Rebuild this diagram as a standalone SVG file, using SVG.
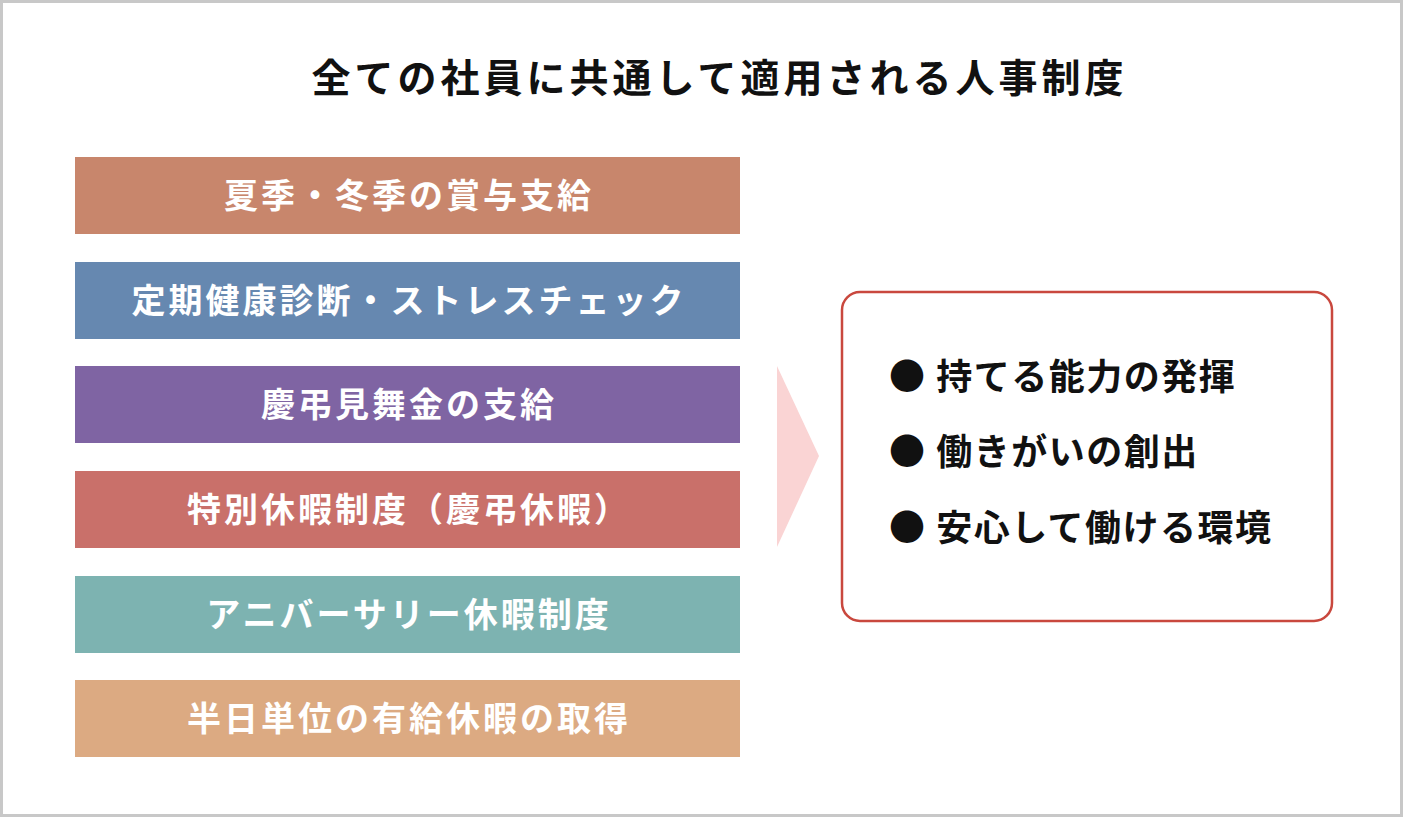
<svg xmlns="http://www.w3.org/2000/svg" width="1408" height="822" viewBox="0 0 1408 822">
<style>
.t{font-family:"Noto Sans CJK JP","Noto Sans",sans-serif;font-weight:700}
.title{font-size:39px;letter-spacing:4px;fill:#111}
.bar{font-size:34px;letter-spacing:3px;fill:#fff}
.item{font-size:36px;letter-spacing:1.5px;fill:#111}
</style>
<rect x="0" y="0" width="1408" height="822" fill="#fff"/>
<rect x="1.5" y="1.5" width="1400" height="814" fill="#fff" stroke="#c8c8c8" stroke-width="3"/>
<g id="title"><text class="t title" x="719.5" y="92" text-anchor="middle">全ての社員に共通して適用される人事制度</text></g>
<g id="bar1"><rect x="75" y="157" width="665" height="77" fill="#c8866c"/><text class="t bar" x="409" y="208" text-anchor="middle">夏季・冬季の賞与支給</text></g>
<g id="bar2"><rect x="75" y="262" width="665" height="77" fill="#6688b0"/><text class="t bar" x="409" y="313" text-anchor="middle">定期健康診断・ストレスチェック</text></g>
<g id="bar3"><rect x="75" y="366" width="665" height="77" fill="#7f64a3"/><text class="t bar" x="409" y="417" text-anchor="middle">慶弔見舞金の支給</text></g>
<g id="bar4"><rect x="75" y="471" width="665" height="77" fill="#c9706a"/><text class="t bar" x="409" y="522" text-anchor="middle">特別休暇制度（慶弔休暇）</text></g>
<g id="bar5"><rect x="75" y="576" width="665" height="77" fill="#7db3b1"/><text class="t bar" x="409" y="627" text-anchor="middle">アニバーサリー休暇制度</text></g>
<g id="bar6"><rect x="75" y="680" width="665" height="77" fill="#dcaa82"/><text class="t bar" x="409" y="731" text-anchor="middle">半日単位の有給休暇の取得</text></g>
<g id="connectors"><polygon points="777,366 819,456 777,547" fill="#fad4d4"/></g>
<g id="result">
<rect x="842" y="292" width="490" height="329" rx="18" ry="18" fill="#fff" stroke="#c9483e" stroke-width="2.5"/>
<text class="t item" x="889" y="390">● 持てる能力の発揮</text>
<text class="t item" x="889" y="465">● 働きがいの創出</text>
<text class="t item" x="889" y="541">● 安心して働ける環境</text>
</g>
</svg>
